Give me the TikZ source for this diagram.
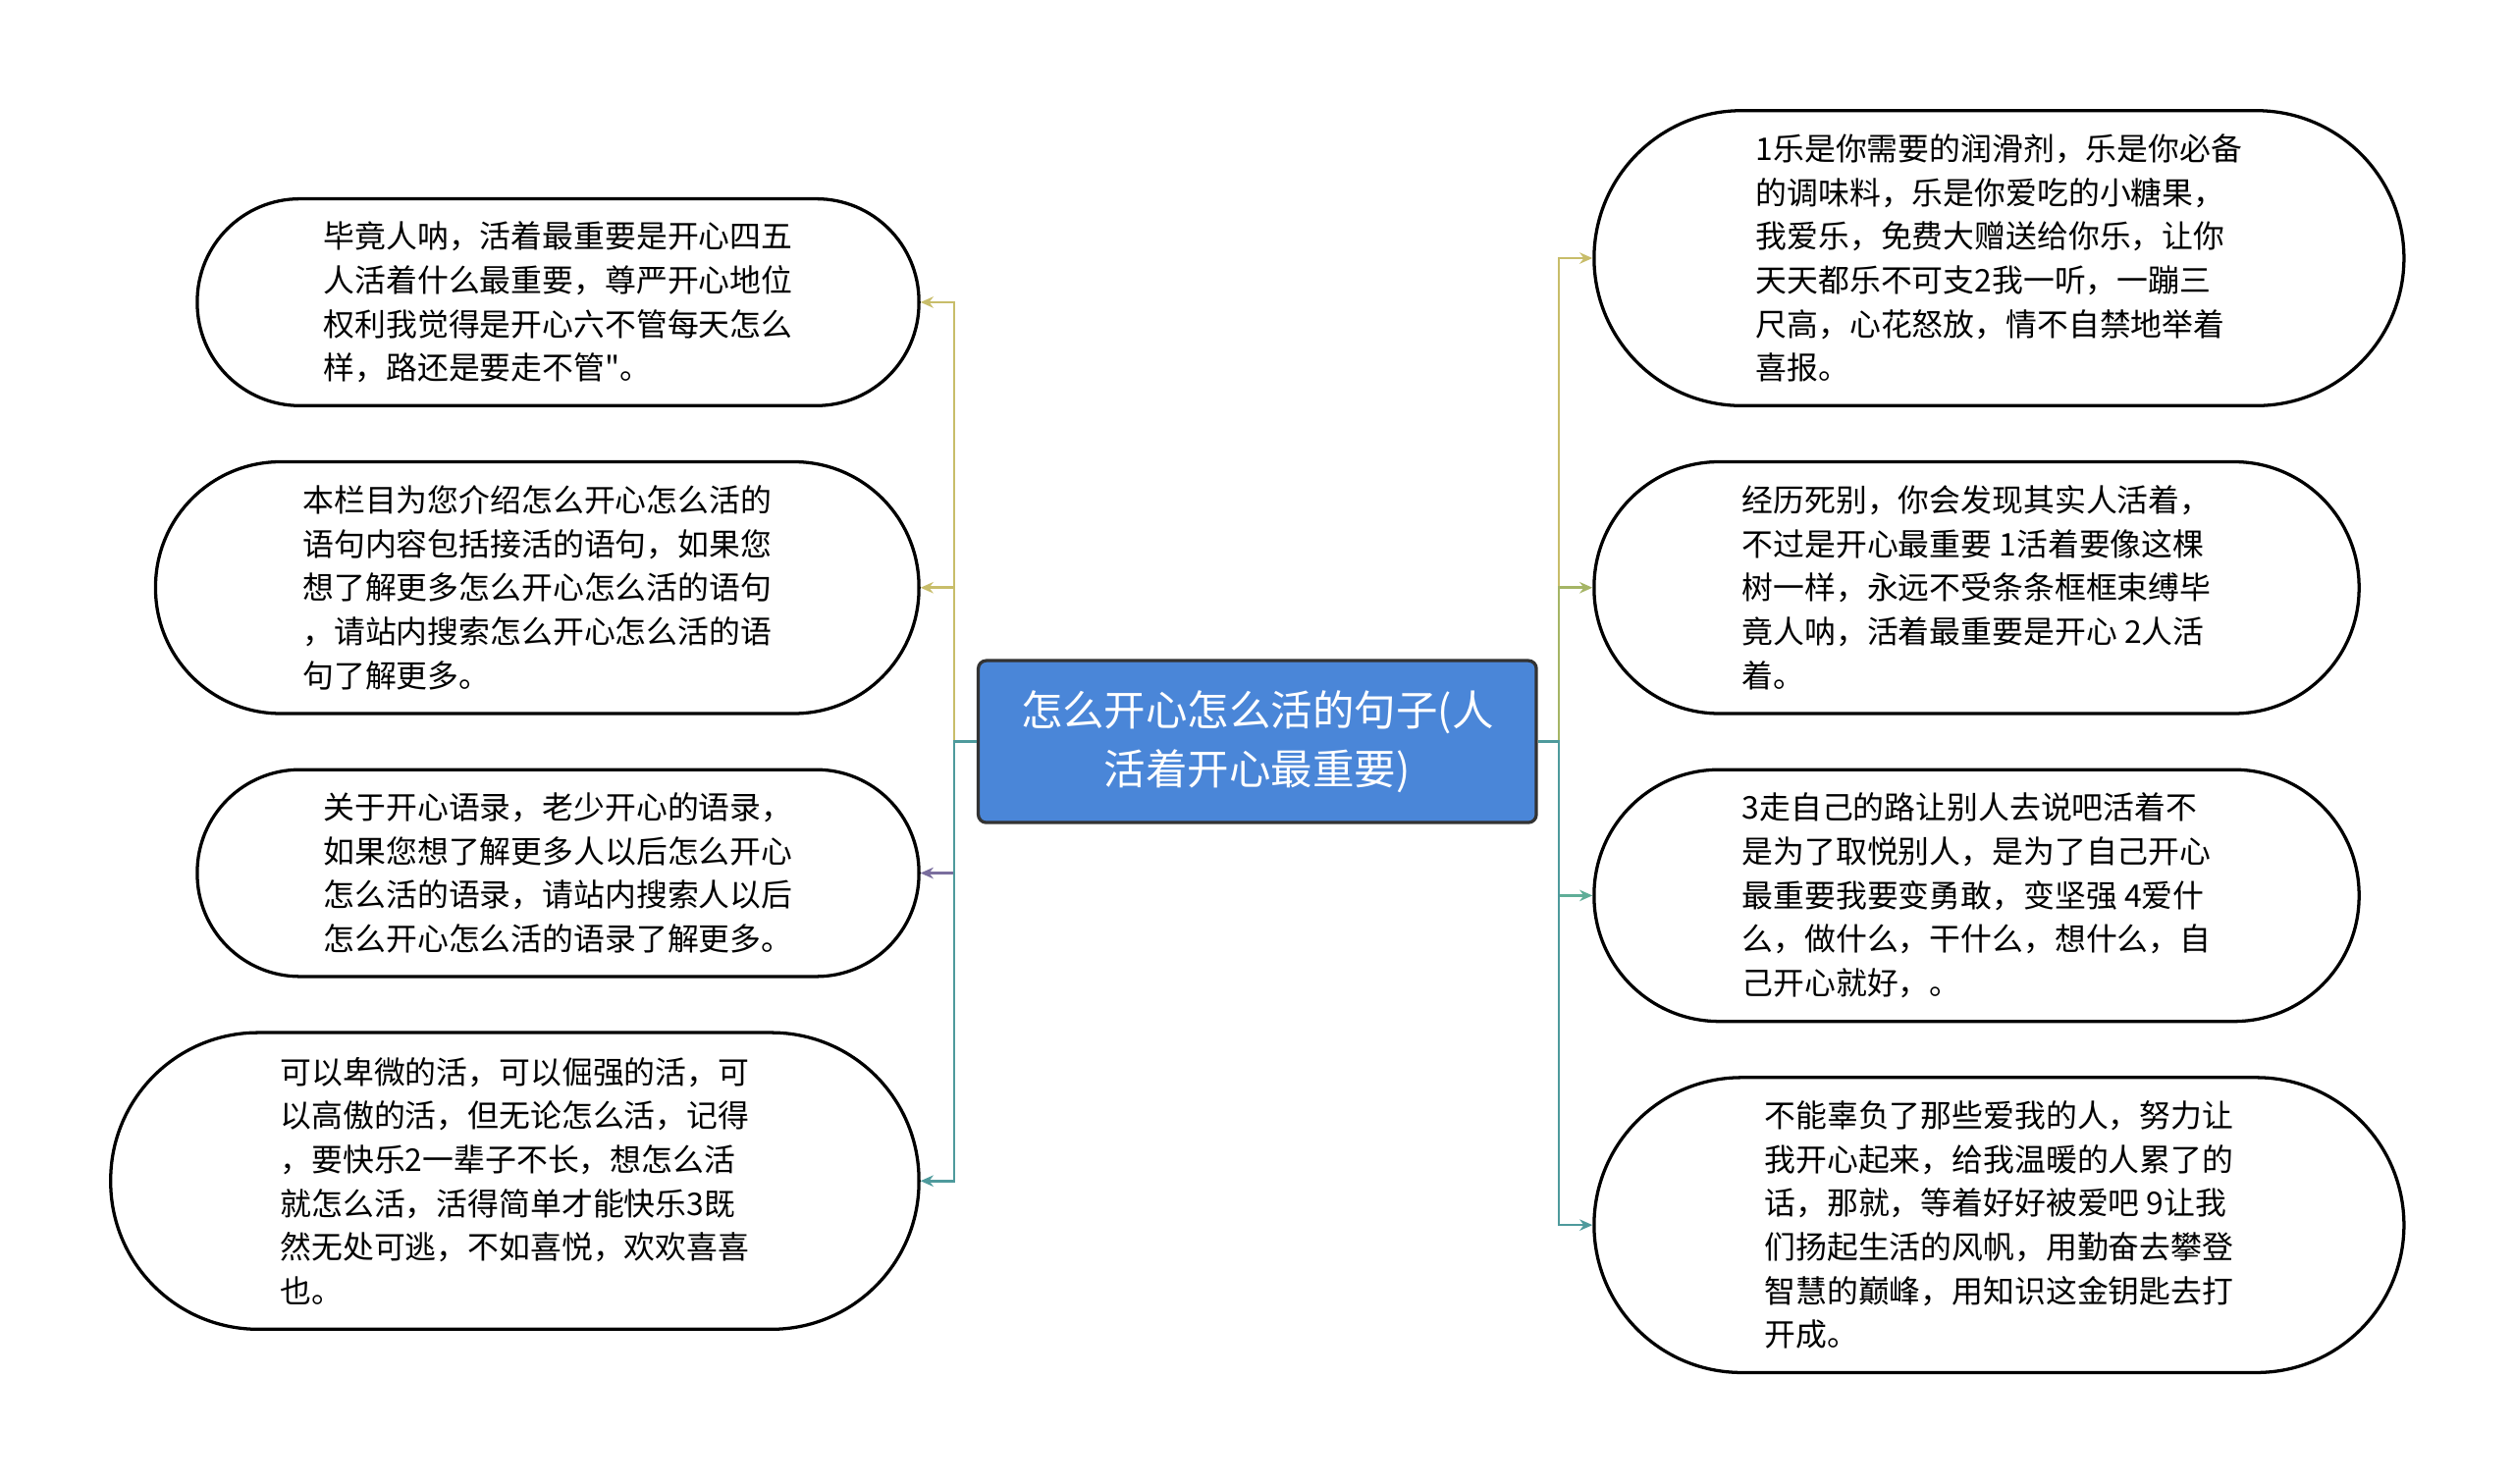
\documentclass[tikz,border=0pt]{standalone}
\usepackage{fontspec}
\setmainfont{Noto Sans CJK SC}
\usetikzlibrary{arrows.meta}
\definecolor{cblue}{HTML}{4A86D8}
\definecolor{cyel}{HTML}{C8BD6A}
\definecolor{cpur}{HTML}{7A6E9E}
\definecolor{cteal}{HTML}{4E9A9C}
\definecolor{cgrn}{HTML}{A5B565}
\definecolor{ctg}{HTML}{5FAE98}
\tikzset{
 leaf/.style={draw=black,line width=2pt,fill=white,align=left,font=\fontsize{19.5}{27.3}\selectfont,inner sep=0pt},
 conn/.style={line width=1.6pt,-{Stealth[length=8pt,width=7pt]}}
}
\begin{document}
\begin{tikzpicture}[x=1pt,y=-1pt]
\useasboundingbox[fill=white] (0,0) rectangle (1567,925);
\node[draw=black!80,line width=2pt,fill=cblue,rounded corners=5pt,minimum width=348pt,minimum height=101pt,text=white,align=center,font=\fontsize{26}{37}\selectfont] (c) at (784,462.5) {怎么开心怎么活的句子(人\\活着开心最重要)};
\node[leaf,minimum width=450pt,minimum height=129pt,rounded corners=64pt] (l1) at (348,188.5) {毕竟人呐，活着最重要是开心四五\\人活着什么最重要，尊严开心地位\\权利我觉得是开心六不管每天怎么\\样，路还是要走不管\textquotedbl。};
\node[leaf,minimum width=476pt,minimum height=157pt,rounded corners=78pt] (l2) at (335,366.5) {本栏目为您介绍怎么开心怎么活的\\语句内容包括接活的语句，如果您\\想了解更多怎么开心怎么活的语句\\，请站内搜索怎么开心怎么活的语\\句了解更多。};
\node[leaf,minimum width=450pt,minimum height=129pt,rounded corners=64pt] (l3) at (348,544.5) {关于开心语录，老少开心的语录，\\如果您想了解更多人以后怎么开心\\怎么活的语录，请站内搜索人以后\\怎么开心怎么活的语录了解更多。};
\node[leaf,minimum width=504pt,minimum height=185pt,rounded corners=92pt] (l4) at (321,736.5) {可以卑微的活，可以倔强的活，可\\以高傲的活，但无论怎么活，记得\\，要快乐2一辈子不长，想怎么活\\就怎么活，活得简单才能快乐3既\\然无处可逃，不如喜悦，欢欢喜喜\\也。};
\node[leaf,minimum width=505pt,minimum height=184pt,rounded corners=92pt] (r1) at (1246.5,161) {1乐是你需要的润滑剂，乐是你必备\\的调味料，乐是你爱吃的小糖果，\\我爱乐，免费大赠送给你乐，让你\\天天都乐不可支2我一听，一蹦三\\尺高，心花怒放，情不自禁地举着\\喜报。};
\node[leaf,minimum width=477pt,minimum height=157pt,rounded corners=78pt] (r2) at (1232.5,366.5) {经历死别，你会发现其实人活着，\\不过是开心最重要 1活着要像这棵\\树一样，永远不受条条框框束缚毕\\竟人呐，活着最重要是开心 2人活\\着。};
\node[leaf,minimum width=477pt,minimum height=157pt,rounded corners=78pt] (r3) at (1232.5,558.5) {3走自己的路让别人去说吧活着不\\是为了取悦别人，是为了自己开心\\最重要我要变勇敢，变坚强 4爱什\\么，做什么，干什么，想什么，自\\己开心就好，。};
\node[leaf,minimum width=505pt,minimum height=184pt,rounded corners=92pt] (r4) at (1246.5,764) {不能辜负了那些爱我的人，努力让\\我开心起来，给我温暖的人累了的\\话，那就，等着好好被爱吧 9让我\\们扬起生活的风帆，用勤奋去攀登\\智慧的巅峰，用知识这金钥匙去打\\开成。};
\draw[conn,cyel] (c.west) -- ++(-14,0) |- (l1.east);
\draw[conn,cyel] (c.west) -- ++(-14,0) |- (l2.east);
\draw[conn,cpur] (c.west) -- ++(-14,0) |- (l3.east);
\draw[conn,cteal] (c.west) -- ++(-14,0) |- (l4.east);
\draw[conn,cyel] (c.east) -- ++(13,0) |- (r1.west);
\draw[conn,cgrn] (c.east) -- ++(13,0) |- (r2.west);
\draw[conn,ctg] (c.east) -- ++(13,0) |- (r3.west);
\draw[conn,cteal] (c.east) -- ++(13,0) |- (r4.west);
\end{tikzpicture}
\end{document}
